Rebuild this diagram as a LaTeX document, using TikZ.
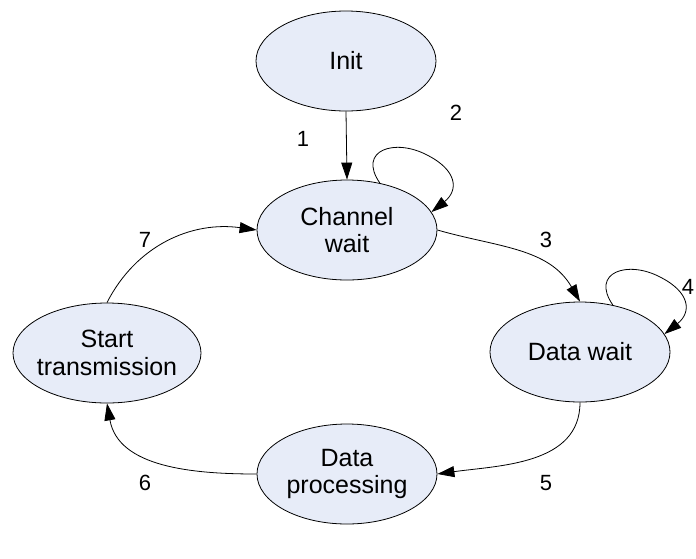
\documentclass[tikz,border=0pt]{standalone}
\usepackage{fontspec}
\setmainfont{Liberation Sans}
\usetikzlibrary{shapes.geometric,arrows.meta,calc}
\definecolor{statefill}{RGB}{231,236,248}
\tikzset{
  state/.style={ellipse, draw=black, line width=0.8pt, fill=statefill,
    minimum width=180pt, minimum height=100pt, inner sep=0pt},
  statetext/.style={align=center, font=\fontsize{25}{27.5}\selectfont, inner sep=0pt},
  edgelabel/.style={font=\fontsize{22}{24}\selectfont, inner sep=0pt},
  trans/.style={draw=black, line width=0.8pt, -{Triangle[length=17pt,width=11pt]}},
}
\begin{document}
\begin{tikzpicture}[x=1pt,y=-1pt]
\useasboundingbox (0,0) rectangle (696,558);
\clip (0,0) rectangle (696,558);

% states
\node[state] (init) at (346,61) {};
\node[state] (cw) at (347,230) {};
\node[state] (dw) at (580,352) {};
\node[state, minimum width=188pt] (st) at (107,353) {};
\node[state] (dp) at (347,474) {};

\node[statetext] (initT) at (init) {Init};
\node[statetext] (cwT) at (cw) {Channel\\wait};
\node[statetext] (dwT) at (dw) {Data wait};
\node[statetext] (stT) at (st) {Start\\transmission};
\node[statetext] (dpT) at (dp) {Data\\processing};

% transitions
\draw[trans] (init.south) -- (cw.north);
\draw[trans] (cw.55) .. controls ($(cw.center)+(10,-80)$) and ($(cw.center)+(48,-92)$) .. ($(cw.center)+(80,-75)$)
  .. controls ($(cw.center)+(110,-60)$) and ($(cw.center)+(112,-40)$) .. (cw.12);
\draw[trans] (cw.east) to[out=-16, in=120] (dw.north);
\draw[trans] (dw.55) .. controls ($(dw.center)+(10,-80)$) and ($(dw.center)+(48,-92)$) .. ($(dw.center)+(80,-75)$)
  .. controls ($(dw.center)+(110,-60)$) and ($(dw.center)+(112,-40)$) .. (dw.12);
\draw[trans] (dw.south) to[out=-90, in=8] (dp.east);
\draw[trans] (dp.west) to[out=180, in=-80] (st.south);
\draw[trans] (st.north) to[out=63, in=172] (cw.west);

% transition numbers
\node[edgelabel] (l1) at (303,139) {1};
\node[edgelabel] (l2) at (456,113) {2};
\node[edgelabel] (l3) at (546,240) {3};
\node[edgelabel] (l4) at (688,287) {4};
\node[edgelabel] (l5) at (546,483) {5};
\node[edgelabel] (l6) at (145,483) {6};
\node[edgelabel] (l7) at (145,240) {7};
\end{tikzpicture}
\end{document}
